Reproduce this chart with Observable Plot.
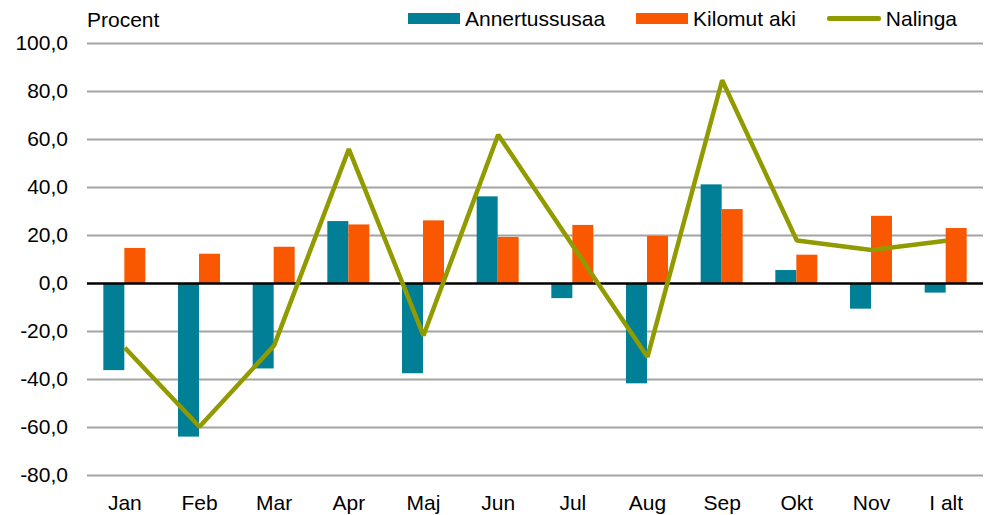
<!DOCTYPE html>
<html><head><meta charset="utf-8">
<script src="https://cdn.jsdelivr.net/npm/d3@7"></script>
<script src="https://cdn.jsdelivr.net/npm/@observablehq/plot@0.6"></script>
<style>
body{margin:0;background:#fff;font-family:"Liberation Sans",Arial,sans-serif;color:#000;}
#wrap{position:relative;width:992px;height:515px;}
#unit{position:absolute;left:87px;top:9px;font-size:21px;line-height:21px;}
#legend{position:absolute;left:408px;top:8px;display:flex;align-items:center;gap:31px;font-size:21px;line-height:21px;}
.item{display:flex;align-items:center;}
.sw{width:52px;height:11px;margin-right:5px;}
.ln{width:54px;height:4.5px;border-radius:2px;margin-right:5px;}
</style></head>
<body><div id="wrap"><div id="chart"></div><div id="unit">Procent</div><div id="legend"></div></div>
<script>
const months = ["Jan","Feb","Mar","Apr","Maj","Jun","Jul","Aug","Sep","Okt","Nov","I alt"];
const annertussusaa = [-36.3,-64.0,-35.6,25.8,-37.6,36.1,-6.3,-41.8,41.1,5.4,-10.7,-4.0];
const kilomutAki = [14.6,12.2,15.1,24.4,26.1,19.2,24.2,19.6,30.8,11.8,28.0,22.9];
const nalinga = [-26.8,-59.7,-25.8,56.0,-21.7,62.0,15.7,-30.6,84.7,17.9,14.0,17.8];
const yTicks = [100,80,60,40,20,0,-20,-40,-60,-80];
const seriesNames = ["Annertussusaa","Kilomut aki","Nalinga"];
const colors = ["#007F97","#F95800","#919B00"];

const rows = months.map((m,i)=>({month:m,a:annertussusaa[i],k:kilomutAki[i],n:nalinga[i]}));
const W = 992, ML = 87, MR = 9;
const bw = (W-ML-MR)/months.length;
const barW = 21;

const chart = Plot.plot({
  width: W, height: 515,
  marginLeft: ML, marginRight: MR, marginTop: 43, marginBottom: 40,
  style: {fontFamily: "Liberation Sans, Arial, sans-serif", fontSize: "21px", color: "#000", background: "#fff"},
  x: {domain: months, padding: 0, round: false, tickSize: 0, tickPadding: 20, label: null},
  y: {domain: [-80,100], ticks: yTicks, tickSize: 0, tickPadding: 19.5, label: null,
      tickFormat: d => d.toFixed(1).replace(".", ",")},
  marks: [
    Plot.ruleY(yTicks.filter(d => d !== 0), {stroke: "#a3a3a3", strokeWidth: 2}),
    Plot.barY(rows, {x: "month", y: "a", fill: colors[0], insetLeft: bw/2 - barW, insetRight: bw/2}),
    Plot.barY(rows, {x: "month", y: "k", fill: colors[1], insetLeft: bw/2, insetRight: bw/2 - barW}),
    Plot.ruleY([0], {stroke: "#000", strokeWidth: 2.5}),
    Plot.lineY(rows, {x: "month", y: "n", stroke: colors[2], strokeWidth: 4.5, strokeLinejoin: "miter", strokeLinecap: "butt"})
  ]
});
document.getElementById("chart").appendChild(chart);

const legend = document.getElementById("legend");
seriesNames.forEach((name, i) => {
  const item = document.createElement("div");
  item.className = "item";
  const sw = document.createElement("div");
  sw.className = i === 2 ? "ln" : "sw";
  sw.style.background = colors[i];
  const t = document.createElement("span");
  t.textContent = name;
  item.appendChild(sw); item.appendChild(t);
  legend.appendChild(item);
});
</script>
</body></html>
